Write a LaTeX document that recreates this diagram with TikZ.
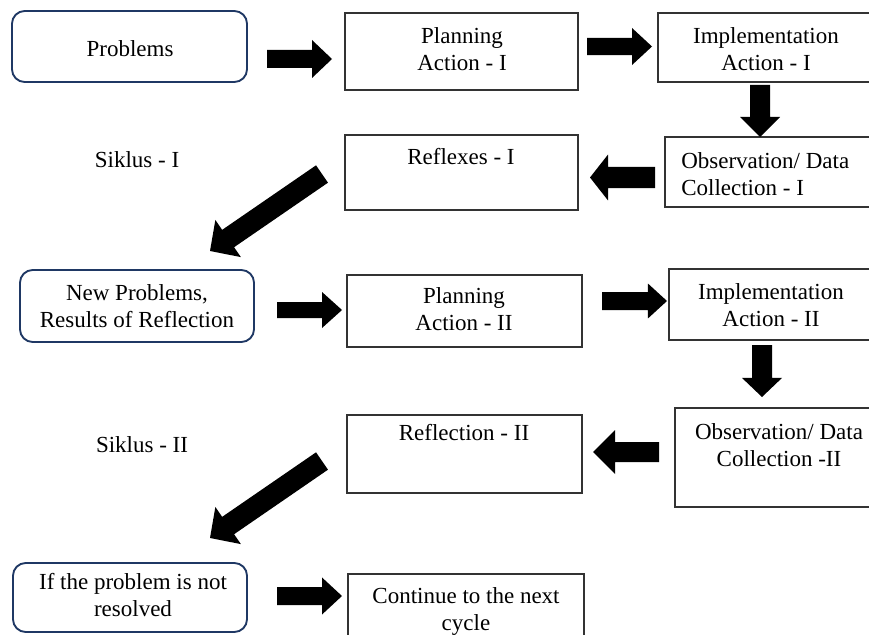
\documentclass[tikz,border=0pt]{standalone}
\usepackage{fontspec}
\setmainfont{Liberation Serif}
\usetikzlibrary{fit,calc}
\definecolor{navy}{HTML}{1F3864}
\definecolor{boxgray}{HTML}{333333}
\newcommand\blockarrow[5]{%
  \fill[black] ($(#1)!#3!90:(#2)$) -- ($(#2)!#5!(#1)!#3!-90:(#1)$) -- ($(#2)!#5!(#1)!#4!-90:(#1)$) -- (#2)
    -- ($(#2)!#5!(#1)!#4!90:(#1)$) -- ($(#2)!#5!(#1)!#3!90:(#1)$) -- ($(#1)!#3!-90:(#2)$) -- cycle;}
\begin{document}
\begin{tikzpicture}[x=0.75pt,y=-0.75pt,
  box/.style={draw=boxgray,line width=0.8pt,inner sep=0pt},
  rbox/.style={draw=navy,line width=1.4pt,rounded corners=9.5pt,inner sep=0pt},
  txt/.style={align=center,inner sep=0pt,font=\fontsize{17.25}{20.25}\selectfont},
  ltxt/.style={align=left,anchor=west,inner sep=0pt,font=\fontsize{17.25}{20.25}\selectfont}]
\useasboundingbox (0,0) rectangle (869,635);
\clip (0,0) rectangle (869,635);
% boxes
\node[rbox, fit={(12,11) (247,82)}] (prob) {};
\node[box, fit={(345,13) (578,90)}] (plan1) {};
\node[box, fit={(658,13) (885,82)}] (impl1) {};
\node[box, fit={(345,135) (578,210)}] (refl1) {};
\node[box, fit={(665,137) (885,207)}] (obs1) {};
\node[rbox, fit={(20,270) (254,342)}] (newp) {};
\node[box, fit={(347,275) (582,347)}] (plan2) {};
\node[box, fit={(669,269) (885,340)}] (impl2) {};
\node[box, fit={(347,415) (582,493)}] (refl2) {};
\node[box, fit={(675,408) (885,507)}] (obs2) {};
\node[rbox, fit={(13,563) (247,632)}] (notres) {};
\node[box, fit={(348,574) (584,660)}] (cont) {};
% texts
\node[txt] (tprob) at (130,49) {Problems};
\node[txt] (tplan1) at (462,49) {Planning\\Action - I};
\node[txt] (timpl1) at (766,49) {Implementation\\Action - I};
\node[txt] (trefl1) at (461,157) {Reflexes - I};
\node[ltxt] (tobs1) at (681,174) {Observation/ Data\\Collection - I};
\node[txt] (sik1) at (137,160) {Siklus - I};
\node[txt] (tnewp) at (137,306) {New Problems,\\Results of Reflection};
\node[txt] (tplan2) at (464,309) {Planning\\Action - II};
\node[txt] (timpl2) at (771,305) {Implementation\\Action - II};
\node[txt] (sik2) at (142,445) {Siklus - II};
\node[txt] (trefl2) at (464,433) {Reflection - II};
\node[txt] (tobs2) at (779,445) {Observation/ Data\\Collection -II};
\node[txt] (tnotres) at (133,595) {If the problem is not\\resolved};
\node[txt] (tcont) at (466,612) {Continue to the next\\cycle};
% arrow end points
\coordinate (a1s) at (267,59);   \coordinate (a1e) at (332,59);
\coordinate (a2s) at (587,46.5); \coordinate (a2e) at (652,46.5);
\coordinate (a3s) at (760,85);   \coordinate (a3e) at (760,137);
\coordinate (a4s) at (655,177.5);\coordinate (a4e) at (590,177.5);
\coordinate (a5s) at (322,174);  \coordinate (a5e) at (210,251);
\coordinate (a6s) at (277,310);  \coordinate (a6e) at (342,310);
\coordinate (a7s) at (602,301);  \coordinate (a7e) at (667,301);
\coordinate (a8s) at (762,345);  \coordinate (a8e) at (762,397);
\coordinate (a9s) at (659,452);  \coordinate (a9e) at (593,452);
\coordinate (a10s) at (322,461); \coordinate (a10e) at (210,538);
\coordinate (a11s) at (277,596); \coordinate (a11e) at (342,596);
% block arrows
\blockarrow{a1s}{a1e}{6.75pt}{14.25pt}{15pt}
\blockarrow{a2s}{a2e}{6.4pt}{13.9pt}{15pt}
\blockarrow{a3s}{a3e}{7.5pt}{15pt}{15pt}
\blockarrow{a4s}{a4e}{7.9pt}{17.2pt}{13.5pt}
\blockarrow{a5s}{a5e}{7.9pt}{16.9pt}{16.5pt}
\blockarrow{a6s}{a6e}{6pt}{13.5pt}{15pt}
\blockarrow{a7s}{a7e}{6.75pt}{13.1pt}{14.3pt}
\blockarrow{a8s}{a8e}{7.5pt}{15pt}{14.3pt}
\blockarrow{a9s}{a9e}{7.5pt}{16.5pt}{16.5pt}
\blockarrow{a10s}{a10e}{7.9pt}{16.9pt}{16.5pt}
\blockarrow{a11s}{a11e}{6.75pt}{13.9pt}{15pt}
\end{tikzpicture}
\end{document}
